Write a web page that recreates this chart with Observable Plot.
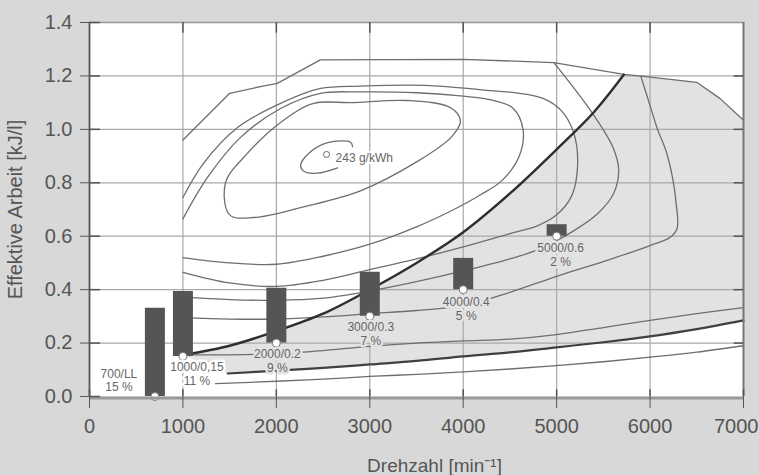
<!DOCTYPE html>
<html><head><meta charset="utf-8">
<script src="https://cdn.jsdelivr.net/npm/d3@7"></script>
<script src="https://cdn.jsdelivr.net/npm/@observablehq/plot@0.6"></script>
<style>
html,body{margin:0;padding:0;background:#d8d8d8;}
#chart{width:759px;height:475px;overflow:hidden;}
</style></head><body><div id="chart"></div>
<script>
// ---------- data ----------
const xTicks = [0, 1000, 2000, 3000, 4000, 5000, 6000, 7000];
const yTicks = [0, 0.2, 0.4, 0.6, 0.8, 1.0, 1.2, 1.4];

// operating points (speed / load) with time share
const opRpm   = [700, 1000, 2000, 3000, 4000, 5000];
const opLoad  = [0, 0.15, 0.2, 0.3, 0.4, 0.6];
const opTop   = [0.33, 0.393, 0.405, 0.465, 0.517, 0.643];
const opName  = ["700/LL", "1000/0,15", "2000/0.2", "3000/0.3", "4000/0.4", "5000/0.6"];
const opShare = ["15 %", "11 %", "9 %", "7 %", "5 %", "2 %"];

// full-load curve
const fullLoad = [[1000,0.96],[1500,1.135],[1830,1.16],[2010,1.172],[2470,1.26],[4000,1.262],[4970,1.25],[5720,1.206],[5930,1.198],[6500,1.176],[6750,1.115],[7000,1.034]];
// thick boundary curve
const thickCurve = [[1000,0.155],[1500,0.19],[2000,0.245],[2500,0.31],[3000,0.40],[3500,0.50],[4000,0.615],[4500,0.76],[5000,0.925],[5400,1.065],[5720,1.205]];
// thick lower line
const lowerThick = [[1480,0.086],[2000,0.097],[2500,0.107],[3000,0.12],[3500,0.133],[4000,0.15],[4500,0.165],[5000,0.184],[5500,0.203],[6000,0.225],[6500,0.252],[7000,0.285]];
// lowest thin line
const lowest = [[1350,0.048],[2000,0.057],[2500,0.065],[3000,0.075],[3500,0.083],[4000,0.092],[4500,0.103],[5000,0.116],[5500,0.13],[6000,0.147],[6500,0.166],[7000,0.19]];
// consumption isolines
const island243 = [[2816,0.935],[2794,0.952],[2550,0.95],[2345,0.91],[2260,0.865],[2300,0.842],[2441,0.836],[2655,0.856]];
const iso2 = [[1500,0.68],[1760,0.67],[2290,0.71],[2900,0.77],[3510,0.88],[3870,0.97],[3970,1.03],[3870,1.08],[3400,1.108],[2800,1.10],[2400,1.097],[2045,1.026],[1690,0.91],[1456,0.80]];
const iso3 = [[1000,0.665],[1263,0.82],[1617,0.97],[2045,1.078],[2473,1.135],[2900,1.14],[3500,1.137],[3972,1.125],[4300,1.11],[4530,1.08],[4640,1.0],[4600,0.9],[4420,0.81],[4186,0.755],[3900,0.70],[3500,0.635],[3000,0.57],[2500,0.525],[2000,0.495],[1500,0.5],[1000,0.52]];
const iso4 = [[1000,0.745],[1220,0.873],[1585,1.007],[2045,1.097],[2473,1.153],[2900,1.162],[3600,1.165],[4200,1.148],[4600,1.135],[4860,1.115],[5050,1.07],[5180,0.99],[5225,0.87],[5160,0.75],[5000,0.68],[4800,0.64],[4500,0.61],[4000,0.56],[3500,0.515],[3000,0.475],[2500,0.435],[2000,0.412],[1500,0.425],[1000,0.465]];
const iso5 = [[1000,0.372],[1500,0.363],[2000,0.36],[2500,0.368],[3000,0.395],[3500,0.43],[4000,0.47],[4500,0.515],[4800,0.55],[5182,0.62],[5440,0.685],[5610,0.76],[5664,0.85],[5600,0.935],[5364,1.07],[4970,1.25]];
const iso6 = [[1000,0.295],[1500,0.29],[2000,0.29],[2500,0.298],[3000,0.31],[3500,0.322],[4000,0.34],[4500,0.39],[5000,0.45],[5500,0.505],[6000,0.565],[6220,0.597],[6290,0.63],[6280,0.72],[6240,0.82],[6170,0.92],[6080,1.0],[5990,1.1],[5900,1.2]];
const iso7 = [[1000,0.157],[1500,0.156],[2000,0.16],[2500,0.172],[3000,0.188],[3500,0.2],[4000,0.208],[4500,0.215],[5000,0.232],[5500,0.258],[6000,0.285],[6500,0.31],[7000,0.333]];

const islandLabel = {rpm: 2537, load: 0.906, text: "243 g/kWh"};

// ---------- build ----------
const pts = a => a.map(([x, y]) => ({x, y}));
const ops = opRpm.map((r, i) => ({rpm: r, load: opLoad[i], top: opTop[i], name: opName[i], share: opShare[i]}));
const shadePoly = pts([...thickCurve, ...fullLoad.filter(d => d[0] > 5720), ...lowerThick.slice().reverse()]);

const font = "Liberation Sans, Arial, Helvetica, sans-serif";
const ink = "#555";
const isoStyle = {x: "x", y: "y", stroke: "#6e6e6e", strokeWidth: 1.3, curve: "catmull-rom"};
const shade = "#e2e2e2";
const xMax = xTicks[xTicks.length - 1];

// label layout (pixel offsets from the operating point)
const labelLayout = [
  {dx: -36, dy1: -22, dy2: -9, halo: "white"},
  {dx: 14, dy1: 11, dy2: 25, halo: "white"},
  {dx: 1, dy1: 11, dy2: 25, halo: shade},
  {dx: 1, dy1: 11, dy2: 25, halo: shade},
  {dx: 3, dy1: 13, dy2: 27, halo: shade},
  {dx: 4, dy1: 12, dy2: 26, halo: shade}
];
const labelMarks = ops.flatMap((d, i) => {
  const L = labelLayout[i];
  const common = {x: "rpm", y: "load", dx: L.dx, fontSize: 12, fill: "#666", stroke: L.halo, strokeWidth: 5, paintOrder: "stroke", textAnchor: "middle"};
  return [
    Plot.text([d], {...common, text: "name", dy: L.dy1}),
    Plot.text([d], {...common, text: "share", dy: L.dy2})
  ];
});

const chart = Plot.plot({
  width: 759, height: 475,
  marginLeft: 89, marginRight: 16, marginTop: 22, marginBottom: 79,
  x: {domain: [0, 7000], label: null},
  y: {domain: [0, 1.4], label: null},
  style: {background: "#d8d8d8", fontFamily: font, color: ink},
  marks: [
    Plot.frame({fill: "white", stroke: "none"}),
    Plot.line(shadePoly, {x: "x", y: "y", fill: shade, stroke: "none", curve: "linear"}),
    Plot.ruleX(xTicks.slice(1, -1), {stroke: "#a8a8a8", strokeWidth: 1.2}),
    Plot.ruleY(yTicks.slice(1, -1), {stroke: "#a8a8a8", strokeWidth: 1.2}),
    Plot.line(pts(island243), isoStyle),
    Plot.line(pts(iso2), {...isoStyle, curve: "catmull-rom-closed"}),
    Plot.line(pts(iso3), isoStyle),
    Plot.line(pts(iso4), isoStyle),
    Plot.line(pts(iso5), isoStyle),
    Plot.line(pts(iso6), isoStyle),
    Plot.line(pts(iso7), isoStyle),
    Plot.line(pts(lowest), isoStyle),
    Plot.line(pts(fullLoad), {...isoStyle, curve: "linear"}),
    Plot.line(pts(lowerThick), {x: "x", y: "y", stroke: "#404040", strokeWidth: 2.2, curve: "catmull-rom"}),
    Plot.line(pts(thickCurve), {x: "x", y: "y", stroke: "#2e2e2e", strokeWidth: 2.4, curve: "catmull-rom"}),
    Plot.ruleX(ops, {x: "rpm", y1: "load", y2: "top", stroke: "#555", strokeWidth: 20}),
    Plot.dot(ops, {x: "rpm", y: "load", r: 4, fill: "white", stroke: "#777", strokeWidth: 1}),
    ...labelMarks,
    Plot.dot([islandLabel], {x: "rpm", y: "load", r: 3, fill: "none", stroke: "#666", strokeWidth: 1}),
    Plot.text([islandLabel], {x: "rpm", y: "load", text: "text", dx: 9, dy: 4, textAnchor: "start", fontSize: 12, fill: "#666", stroke: "white", strokeWidth: 4, paintOrder: "stroke"}),
    // frame
    Plot.ruleY([1.4], {stroke: "#999", strokeWidth: 1.5}),
    Plot.ruleX([7000], {stroke: "#777", strokeWidth: 2}),
    Plot.ruleY([0], {stroke: "#9a9a9a", strokeWidth: 3, dy: 1.5}),
    Plot.ruleX([0], {stroke: "#555", strokeWidth: 1.8}),
    // inward ticks
    Plot.ruleY(yTicks, {y: d => d, x1: 0, x2: 118, stroke: "#555", strokeWidth: 1.5}),
    Plot.ruleY(yTicks.slice(1, -1), {y: d => d, x1: 6900, x2: 7000, stroke: "#555", strokeWidth: 1.5}),
    Plot.ruleX(xTicks.slice(1, -1), {x: d => d, y1: 1.36, y2: 1.4, stroke: "#555", strokeWidth: 1.5}),
    Plot.ruleX(xTicks, {x: d => d, y1: 0, y2: 0.025, stroke: "#555", strokeWidth: 1.5}),
    // axes
    Plot.axisY({ticks: yTicks, tickFormat: d3.format(".1f"), tickSize: 9, tickPadding: 8, fontSize: 20, label: null, stroke: "#555", fill: ink}),
    Plot.axisX({ticks: xTicks, tickFormat: d => d === xMax ? "" : String(d), tickSize: 12, tickPadding: 10, fontSize: 20, label: null, stroke: "#555", fill: ink}),
    Plot.text([xMax], {x: d => d, frameAnchor: "bottom", dy: 22, dx: 15, text: d => String(d), textAnchor: "end", lineAnchor: "top", fontSize: 20, fill: ink}),
    Plot.text(["Effektive Arbeit [kJ/l]"], {frameAnchor: "left", rotate: -90, dx: -74, textAnchor: "middle", lineAnchor: "middle", fontSize: 20, fill: ink}),
    Plot.text(["Drehzahl [min⁻¹]"], {frameAnchor: "bottom", dx: 18, dy: 69, textAnchor: "middle", lineAnchor: "middle", fontSize: 19, fill: ink})
  ]
});
document.getElementById("chart").appendChild(chart);
</script>
</body></html>
